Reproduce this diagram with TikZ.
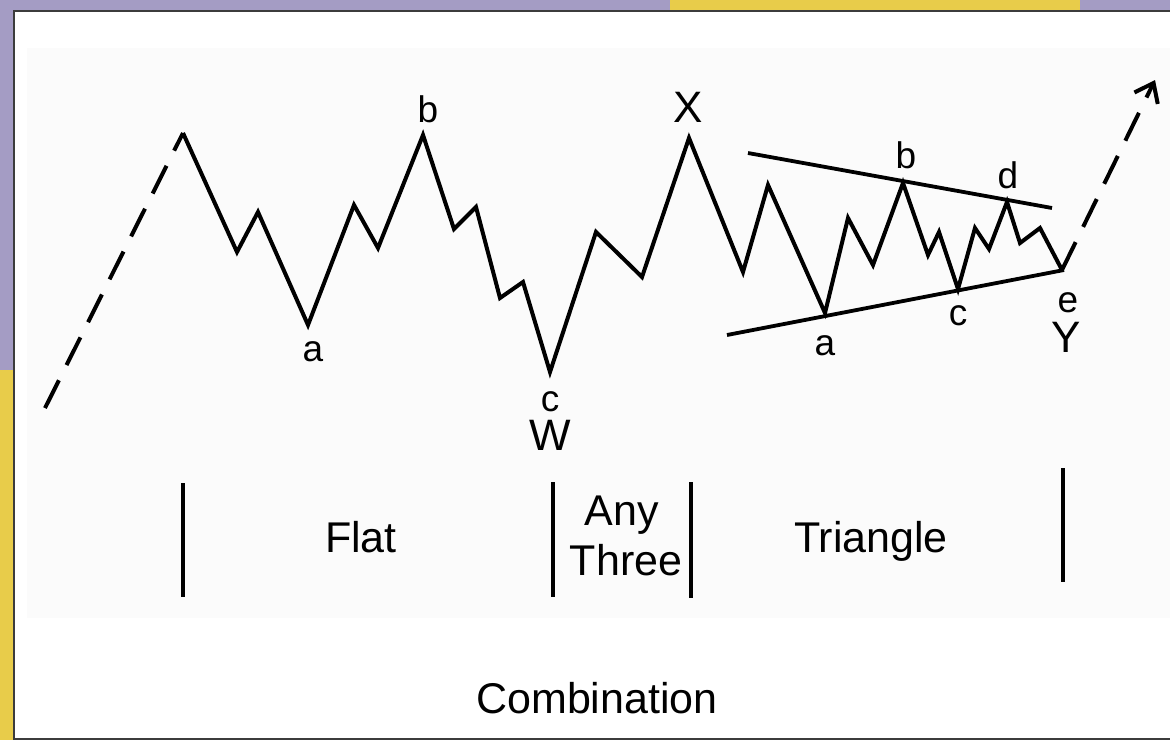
\documentclass[tikz,border=0pt]{standalone}
\usepackage{fontspec}
\setmainfont{Liberation Sans}
\usetikzlibrary{arrows.meta}
\definecolor{lilac}{HTML}{A49CC4}
\definecolor{gold}{HTML}{E8CC4A}
\definecolor{panel}{HTML}{FBFBFB}
\definecolor{framec}{HTML}{3C3C3C}
\tikzset{
  wave/.style={line width=4pt, line join=miter, line cap=butt},
  guide/.style={line width=3.8pt},
  proj/.style={line width=4pt, dash pattern=on 31pt off 17pt},
  sep/.style={line width=4pt},
  lbl/.style={font=\fontsize{37}{40}\selectfont, anchor=base, inner sep=0pt},
  big/.style={font=\fontsize{44}{48}\selectfont, anchor=base, inner sep=0pt},
  title/.style={font=\fontsize{43}{50}\selectfont, anchor=base, inner sep=0pt, align=center}
}
\begin{document}
\begin{tikzpicture}[x=1pt,y=-1pt]
\useasboundingbox (0,0) rectangle (1170,740);
% screenshot surroundings
\fill[lilac] (0,0) rectangle (1170,740);
\fill[gold] (0,370) rectangle (13,740);
\fill[gold] (670,0) rectangle (1080,10);
\fill[white] (13,10) rectangle (1170,740);
\fill[panel] (27,48) rectangle (1170,618);
\draw[framec, line width=2pt] (1175,11) -- (14,11) -- (14,739) -- (1175,739);

% wave points
\coordinate (s0) at (45,408);
\coordinate (p0) at (183,133);
\coordinate (p1) at (237,252);
\coordinate (p2) at (258,212);
\coordinate (fa) at (308,325);
\coordinate (p3) at (354,205);
\coordinate (p4) at (378,248);
\coordinate (fb) at (423,135);
\coordinate (p5) at (454,229);
\coordinate (p6) at (476,207);
\coordinate (p7) at (500,298);
\coordinate (p8) at (523,282);
\coordinate (W) at (550,372);
\coordinate (q1) at (596,232);
\coordinate (q2) at (642,277);
\coordinate (X) at (689,138);
\coordinate (r1) at (743,272);
\coordinate (r2) at (768,185);
\coordinate (ta) at (825,313);
\coordinate (r3) at (848,218);
\coordinate (r4) at (873,265);
\coordinate (tb) at (903,183);
\coordinate (r5) at (928,255);
\coordinate (r6) at (939,232);
\coordinate (tc) at (958,289);
\coordinate (r7) at (975,228);
\coordinate (r8) at (989,249);
\coordinate (td) at (1007,202);
\coordinate (r9) at (1020,243);
\coordinate (r10) at (1040,228);
\coordinate (te) at (1062,270);
\coordinate (tip) at (1155,80);

% triangle boundary lines
\coordinate (u1) at (748,153);
\coordinate (u2) at (1052,208);
\coordinate (l1) at (727,335);
\coordinate (l2) at (1064,270);
\draw[guide] (u1) -- (u2);
\draw[guide] (l1) -- (l2);

% projections
\draw[proj] (s0) -- (p0);
\draw[proj, -{Straight Barb[length=17pt,width=26pt,line width=4pt]}] (te) -- (tip);

% wave
\draw[wave] (p0) -- (p1) -- (p2) -- (fa) -- (p3) -- (p4) -- (fb) -- (p5) -- (p6)
  -- (p7) -- (p8) -- (W) -- (q1) -- (q2) -- (X) -- (r1) -- (r2) -- (ta) -- (r3)
  -- (r4) -- (tb) -- (r5) -- (r6) -- (tc) -- (r7) -- (r8) -- (td) -- (r9) -- (r10) -- (te);

% labels
\node[lbl] (la) at (313,361) {a};
\node[lbl] (lb) at (428,122) {b};
\node[lbl] (lc) at (550,411) {c};
\node[big] (lW) at (550,450) {W};
\node[big] (lX) at (688,122) {X};
\node[lbl] (ta2) at (825,355) {a};
\node[lbl] (tb2) at (906,168) {b};
\node[lbl] (tc2) at (958,325) {c};
\node[lbl] (td2) at (1008,188) {d};
\node[lbl] (te2) at (1068,312) {e};
\node[big] (lY) at (1066,352) {Y};

% separators
\coordinate (s1t) at (183,483); \coordinate (s1b) at (183,597);
\coordinate (s2t) at (553,482); \coordinate (s2b) at (553,597);
\coordinate (s3t) at (691,482); \coordinate (s3b) at (691,598);
\coordinate (s4t) at (1063,468); \coordinate (s4b) at (1063,582);
\draw[sep] (s1t) -- (s1b);
\draw[sep] (s2t) -- (s2b);
\draw[sep] (s3t) -- (s3b);
\draw[sep] (s4t) -- (s4b);

\node[title] (flat) at (361,552) {Flat};
\node[title] (any) at (622,525) {Any};
\node[title] (three) at (626,575) {Three};
\node[title] (tri) at (871,552) {Triangle};
\node[title] (comb) at (597,713) {Combination};
\end{tikzpicture}
\end{document}
